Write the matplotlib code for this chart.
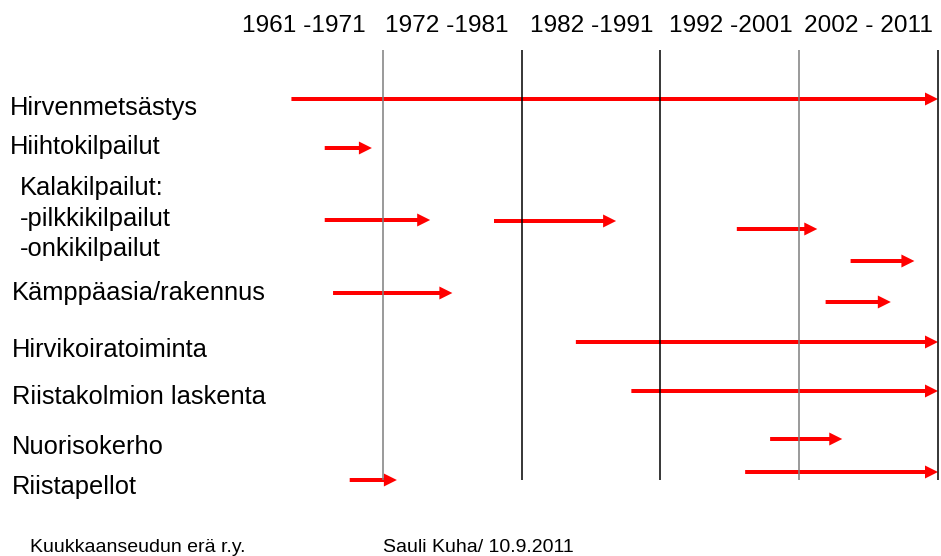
import matplotlib
matplotlib.use('Agg')
import matplotlib.pyplot as plt

# decade columns
decade_edges = [1972, 1982, 1992, 2002, 2012]
edge_colors = ['#7f7f7f', 'black', 'black', '#7f7f7f', 'black']
headers = ['1961 -1971', '1972 -1981', '1982 -1991', '1992 -2001', '2002 - 2011']
header_x = [242, 385, 530, 669, 804]

# activity labels (left column)
labels = ['Hirvenmetsästys', 'Hiihtokilpailut', 'Kalakilpailut:', '-pilkkikilpailut',
          '-onkikilpailut', 'Kämppäasia/rakennus', 'Hirvikoiratoiminta',
          'Riistakolmion laskenta', 'Nuorisokerho', 'Riistapellot']
label_x = [10, 10, 20, 20, 20, 12, 12, 12, 12, 12]
label_y = [115, 154, 195, 226, 256, 300, 357, 404, 454, 494]

# arrows: start year, end year, row level
arrow_start = [1965.4, 1967.8, 1967.8, 1980.0, 1997.5, 2005.7, 1968.4, 2003.9,
               1985.9, 1989.9, 1999.9, 1969.6, 1998.1]
arrow_end = [2012, 1971.2, 1975.4, 1988.8, 2003.3, 2010.3, 1977.0, 2008.6,
             2012, 2012, 2005.1, 1973.0, 2012]
arrow_row = [99, 148, 220, 221, 229, 261, 293, 302, 342, 391, 439, 480, 472]

W, H = 941, 556
fig = plt.figure(figsize=(W / 100, H / 100), dpi=100)
ax = fig.add_axes([0, 0, 1, 1])
px_per_year = (938 - 383) / 40.0
ax.set_xlim(1972 - 383 / px_per_year, 1972 + (W - 383) / px_per_year)
ax.set_ylim(H, 0)
ax.axis('off')

plt.rc('font', family='Liberation Sans')

for x, c in zip(decade_edges, edge_colors):
    ax.vlines(x, 50, 480, color=c, linewidth=1.1)

for s, e, r in zip(arrow_start, arrow_end, arrow_row):
    ax.arrow(s, r, e - s, 0, width=4, head_width=13, head_length=13 / px_per_year,
             length_includes_head=True, color='#ff0000', linewidth=0)

for h, x in zip(headers, header_x):
    fig.text(x / W, 1 - 32 / H, h, fontsize=17.6, family='Liberation Sans',
             ha='left', va='baseline')

for t, x, y in zip(labels, label_x, label_y):
    fig.text(x / W, 1 - y / H, t, fontsize=18.4, family='Liberation Sans',
             ha='left', va='baseline')

fig.text(30 / W, 1 - 552 / H, 'Kuukkaanseudun erä r.y.', fontsize=14,
         family='Liberation Sans', va='baseline')
fig.text(383 / W, 1 - 552 / H, 'Sauli Kuha/ 10.9.2011', fontsize=14,
         family='Liberation Sans', va='baseline')

fig.savefig('out.png', dpi=100)
